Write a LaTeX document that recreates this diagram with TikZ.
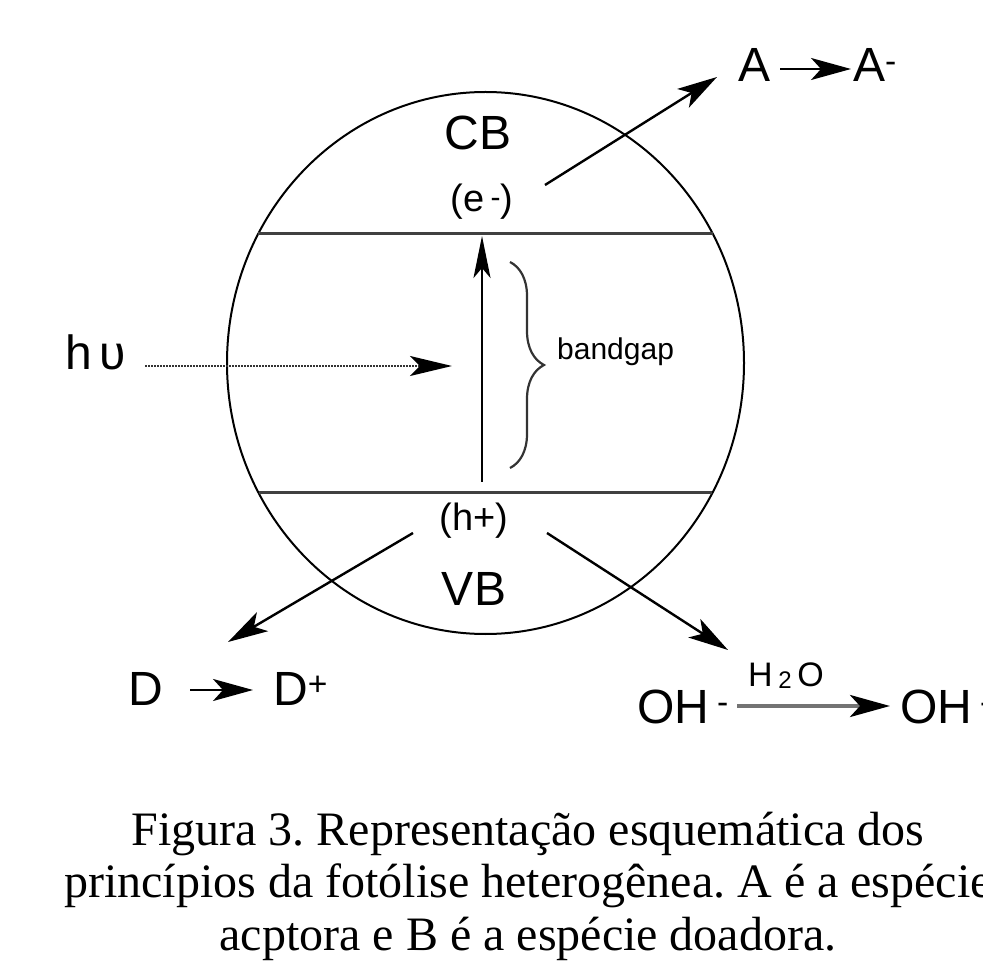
\documentclass[tikz,border=0pt]{standalone}
\usepackage{fontspec}
\setmainfont{Liberation Serif}
\setsansfont{Liberation Sans}
\usetikzlibrary{arrows.meta,decorations.pathreplacing}
\frenchspacing
\begin{document}
\begin{tikzpicture}[x=1pt,y=-1pt,
  lbl/.style={font=\sffamily\fontsize{48}{52}\selectfont, inner sep=0pt},
  sml/.style={font=\sffamily\fontsize{38}{42}\selectfont, inner sep=0pt},
  tinytxt/.style={font=\sffamily\fontsize{30}{34}\selectfont, inner sep=0pt},
  captxt/.style={font=\rmfamily\fontsize{48}{52}\selectfont, inner sep=0pt},
  arr/.style={line width=2.4pt, -{Stealth[length=40pt,width=22pt,inset=10pt]}},
  varr/.style={line width=2.6pt, -{Stealth[length=42pt,width=17pt,inset=10pt]}},
  band/.style={line width=3pt, black!75},
  brc/.style={line width=2.2pt, black!80, decorate, decoration={brace, amplitude=34pt}},
  dots/.style={line width=2.2pt, black!80, dash pattern=on 1.6pt off 1.4pt},
]
\useasboundingbox (0,0) rectangle (983,973);

% particle
\draw[line width=2pt] (485.5,363) ellipse [x radius=258.5, y radius=271];
\draw[band] (258,234) -- (713,234);
\draw[band] (259,492) -- (712,492);

% labels inside
\node[lbl, anchor=base] (CB) at (478,150) {CB};
\node[sml, anchor=base] (e) at (482,212) {(e\,\raisebox{4pt}{\fontsize{30}{30}\selectfont -})};
\node[sml, anchor=base] (h) at (474,530) {(h+)};
\node[lbl, anchor=base] (VB) at (474,605) {VB};

% excitation
\coordinate (vb0) at (482,482);
\coordinate (cb0) at (482,236);
\draw[varr] (vb0) -- (cb0);
\draw[brc] (510,262) -- (510,468);
\node[tinytxt, anchor=base west] (gap) at (557,360) {bandgap};

% light
\node[lbl, anchor=base west] (hv) at (65,370) {h\,υ};
\coordinate (hvtip) at (452,366);
\draw[dots, -{Stealth[length=42pt,width=20pt,inset=10pt,black]}] (145,366) -- (hvtip);

% acceptor
\node[lbl, anchor=base west] (A) at (738,82) {A};
\node[lbl, anchor=base west] (Am) at (853,82) {A\textsuperscript{-}};
\draw[arr] ([xshift=10pt,yshift=13pt]A.base east) -- ([xshift=-2pt,yshift=13pt]A.base east -| Am.base west);
\coordinate (eout) at (545,185);
\coordinate (ain) at (717,77);
\draw[arr] (eout) -- (ain);

% donor
\node[lbl, anchor=base west] (D) at (128,705) {D};
\node[lbl, anchor=base west] (Dp) at (273,705) {D\textsuperscript{+}};
\draw[arr] ([xshift=27pt,yshift=15pt]D.base east) -- ([xshift=-20pt,yshift=15pt]D.base east -| Dp.base west);
\coordinate (hout1) at (413,533);
\coordinate (din) at (228,642);
\draw[arr] (hout1) -- (din);

% hydroxyl
\node[lbl, anchor=base west] (OH1) at (637,723) {OH\,\textsuperscript{-}};
\node[lbl, anchor=base west] (OH2) at (900,723) {OH\,\textsuperscript{-}};
\draw[line width=4pt, black!55, -{Stealth[length=40pt,width=22pt,inset=10pt,black]}] ([xshift=8pt,yshift=17pt]OH1.base east) -- ([xshift=-10pt,yshift=17pt]OH1.base east -| OH2.base west);
\node[anchor=base west, inner sep=0pt, font=\sffamily\fontsize{34}{36}\selectfont] (w) at (748,686) {H\,\raisebox{-2pt}{\fontsize{24}{24}\selectfont 2}\,O};
\coordinate (hout2) at (547,533);
\coordinate (ohin) at (728,650);
\draw[arr] (hout2) -- (ohin);

% caption
\node[captxt, anchor=base] (c1) at (528,845) {Figura 3. Representação esquemática dos};
\node[captxt, anchor=base] (c2) at (528,897) {princípios da fotólise heterogênea. A é a espécie};
\node[captxt, anchor=base] (c3) at (528,950) {acptora e B é a espécie doadora.};
\end{tikzpicture}
\end{document}
